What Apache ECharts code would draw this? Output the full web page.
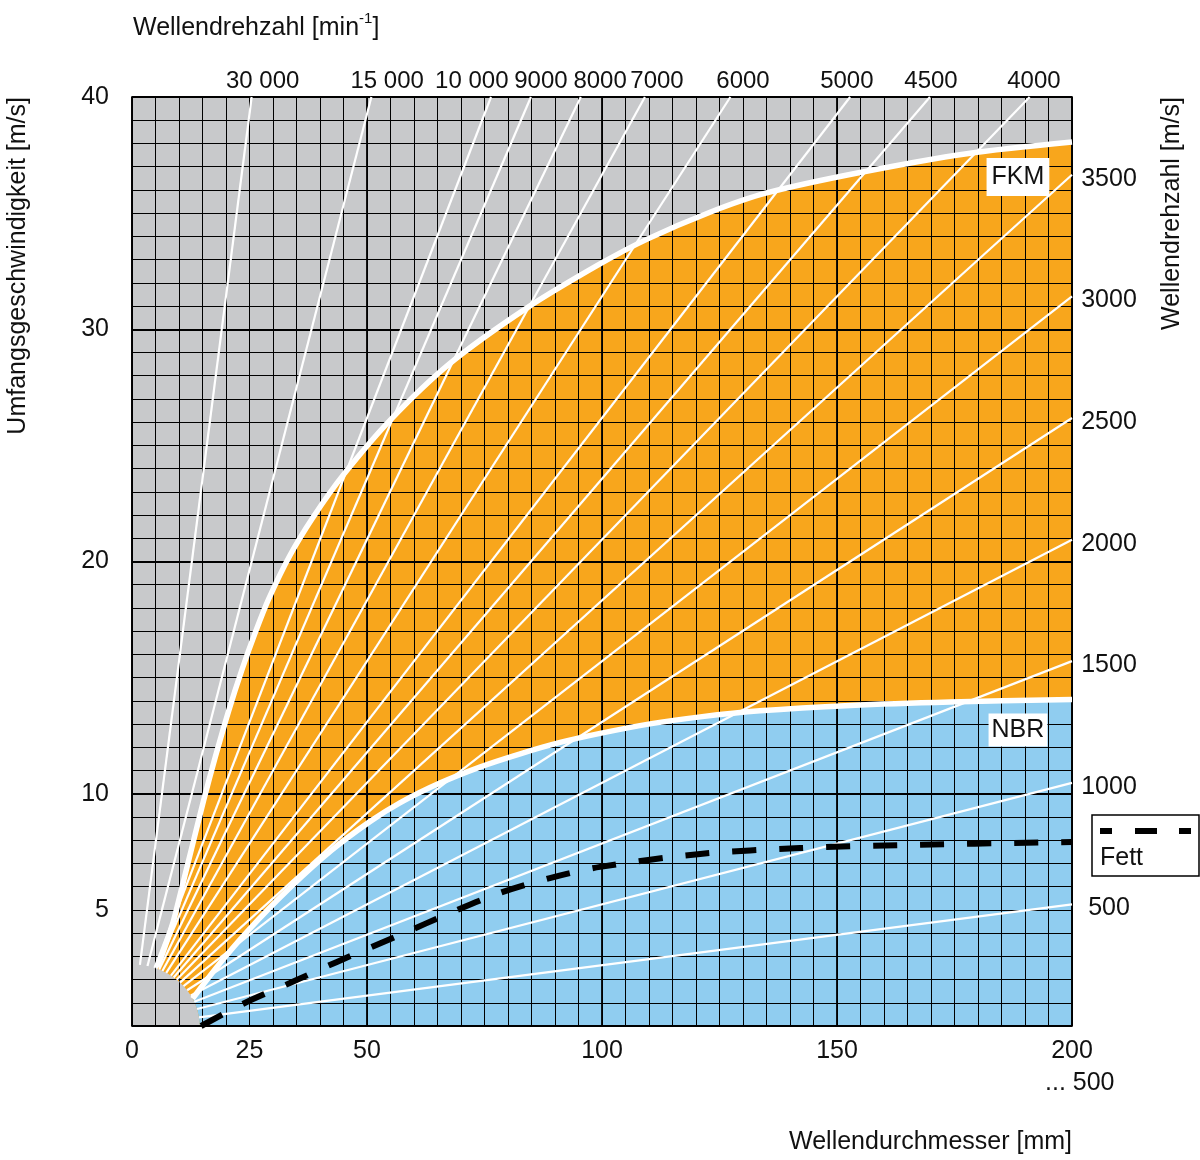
<!DOCTYPE html>
<html>
<head>
<meta charset="utf-8">
<script src="https://cdn.jsdelivr.net/npm/echarts@6/dist/echarts.min.js"></script>
<style>html,body{margin:0;padding:0;background:#fff}#c{width:1200px;height:1160px}</style>
</head>
<body>
<div id="c"></div>
<script>
const FONT = '"Liberation Sans", Arial, Helvetica, sans-serif';

// axis label ticks
const xLabelTicks = [0, 25, 50, 100, 150, 200];
const yLabelTicks = [5, 10, 20, 30, 40];

// rpm lines (start on the lower-left arc, end at the plot border), [diameter mm, speed m/s]
const rpmLineNames = ['30 000','15 000','10 000','9000','8000','7000','6000','5000','4500','4000','3500','3000','2500','2000','1500','1000','500'];
const lineStart = [[1.68,2.63],[3.29,2.58],[4.78,2.50],[5.24,2.47],[5.79,2.43],[6.46,2.37],[7.28,2.29],[8.28,2.17],[8.86,2.09],[9.50,1.99],[10.20,1.87],[10.95,1.72],[11.73,1.54],[12.51,1.31],[13.24,1.04],[13.85,0.73],[14.26,0.37]];
const lineEnd = [[25.46,40],[50.93,40],[76.39,40],[84.88,40],[95.49,40],[109.13,40],[127.32,40],[152.79,40],[169.77,40],[190.99,40],[200,36.65],[200,31.42],[200,26.18],[200,20.94],[200,15.71],[200,10.47],[200,5.24]];

// rpm labels along the top border (diameter position) and the right border (speed position)
const topLabels = ['30 000','15 000','10 000','9000','8000','7000','6000','5000','4500','4000'];
const topLabelD = [27.8, 54.3, 72.3, 87.0, 99.6, 111.7, 130.0, 152.1, 170.0, 191.9];
const rightLabels = ['3500','3000','2500','2000','1500','1000','500'];
const rightLabelV = [36.65, 31.42, 26.18, 20.94, 15.71, 10.47, 5.24];

// region boundaries
const fkmCurve = [[5.32,2.54],[6.38,3.06],[7.66,3.79],[8.87,4.56],[10.64,5.98],[12.77,7.71],[15.26,9.73],[17.72,11.58],[20.57,13.57],[23.40,15.34],[26.23,16.94],[29.09,18.39],[33.62,20.27],[38.57,21.92],[44.96,23.73],[54.89,26.08],[67.66,28.53],[83.98,30.91],[99.57,32.81],[109.51,33.87],[122.98,35.04],[135.04,35.87],[154.89,36.75],[177.6,37.56],[200,38.06]];
const nbrCurve = [[12.9,1.18],[18.5,2.65],[24.8,4.13],[33.6,5.95],[42.55,7.58],[50.6,8.80],[57.0,9.61],[65.5,10.46],[74.0,11.15],[82.6,11.72],[91.1,12.21],[99.6,12.60],[110.2,13.01],[120.9,13.31],[133.6,13.57],[152.8,13.80],[174.0,13.95],[200,14.06]];
const fettCurve = [[14.7,0],[24.0,0.99],[33.6,1.85],[43.6,2.76],[57.0,3.92],[67.7,4.87],[78.3,5.73],[88.9,6.37],[99.6,6.85],[120.9,7.41],[142.1,7.66],[163.4,7.79],[200,7.92]];
const lowerArc = [[14.4,0],[14.26,0.37],[13.85,0.73],[13.24,1.04],[12.51,1.31],[11.73,1.54],[10.95,1.72],[10.20,1.87],[9.50,1.99],[8.86,2.09],[8.28,2.17],[7.28,2.29],[6.46,2.37],[5.79,2.43],[5.32,2.47]];

// boxed region labels
const regionLabels = [{name:'FKM', value:[188.5,36.56], pad:[8,5,5,5]}, {name:'NBR', value:[188.5,12.74], pad:[5,3,3,3]}];

const GRAY = '#c8c9cb', ORANGE = '#f8a61c', BLUE = '#90cdf0';

const orangePoly = fkmCurve.concat([[200,0]], lowerArc.filter(p => p[1] < 2.5));
const bluePoly = nbrCurve.concat([[200,0]], lowerArc.filter(p => p[1] < 1.18));

function polySeries(points, color) {
  return {
    type: 'custom', coordinateSystem: 'cartesian2d', z: 1, silent: true, clip: true,
    data: [[0, 0]],
    renderItem: (params, api) => ({
      type: 'polygon',
      shape: { points: points.map(p => api.coord(p)), smooth: 0 },
      style: { fill: color }
    })
  };
}

const series = [polySeries(orangePoly, ORANGE), polySeries(bluePoly, BLUE)];

rpmLineNames.forEach((n, i) => {
  series.push({
    type: 'line', name: n, data: [lineStart[i], lineEnd[i]], z: 5, silent: true,
    showSymbol: false, symbol: 'none',
    lineStyle: { color: '#fff', width: 2.2 }
  });
});

series.push({
  type: 'line', data: fkmCurve, smooth: 0.3, z: 6, silent: true, symbol: 'none',
  lineStyle: { color: '#fff', width: 5.5 }
});
series.push({
  type: 'line', data: nbrCurve, smooth: 0.3, z: 6, silent: true, symbol: 'none',
  lineStyle: { color: '#fff', width: 5.5 }
});
series.push({
  type: 'line', data: fettCurve, smooth: 0.3, z: 7, silent: true, symbol: 'none',
  lineStyle: { color: '#000', width: 6, type: [24, 23] }
});

const hiddenItem = { color: 'rgba(0,0,0,0)', opacity: 1 };

series.push({
  type: 'scatter', z: 8, silent: true, clip: false, symbolSize: 1,
  itemStyle: hiddenItem,
  data: topLabels.map((t, i) => ({ name: t, value: [topLabelD[i], 40] })),
  label: { show: true, position: 'top', distance: 3, formatter: p => p.name,
           color: '#111', opacity: 1, fontSize: 24, fontFamily: FONT }
});
series.push({
  type: 'scatter', z: 8, silent: true, clip: false, symbolSize: 1,
  itemStyle: hiddenItem,
  data: rightLabels.map((t, i) => ({ name: t, value: [200, rightLabelV[i]] })),
  label: { show: true, position: 'inside', offset: [37, 4], align: 'center', verticalAlign: 'middle',
           formatter: p => p.name, color: '#111', opacity: 1, fontSize: 25, fontFamily: FONT }
});
series.push({
  type: 'scatter', z: 9, silent: true, clip: false, symbolSize: 1,
  itemStyle: hiddenItem,
  data: regionLabels.map(r => ({ name: r.name, value: r.value,
    label: { padding: r.pad } })),
  label: { show: true, position: 'inside', align: 'center', verticalAlign: 'middle',
           formatter: p => p.name, color: '#111', opacity: 1, fontSize: 25, fontFamily: FONT,
           backgroundColor: '#fff' }
});

const lineBlack = { color: '#000', width: 1.5 };

const option = {
  animation: false,
  backgroundColor: '#fff',
  grid: { left: 132, top: 97, right: 128, bottom: 134, show: true, backgroundColor: GRAY, borderWidth: 0 },
  xAxis: [
    { type: 'value', min: 0, max: 200, interval: 5, position: 'bottom', z: 3,
      axisLine: { show: true, onZero: false, lineStyle: lineBlack },
      axisTick: { show: false },
      axisLabel: { color: '#111', fontSize: 25, fontFamily: FONT, margin: 13,
                   showMinLabel: true, showMaxLabel: true,
                   formatter: v => xLabelTicks.indexOf(v) >= 0 ? String(v) : '' },
      splitLine: { show: true, lineStyle: { color: '#000', width: 1 } } },
    { type: 'value', min: 0, max: 200, interval: 50, position: 'top', z: 3,
      axisLine: { show: true, onZero: false, lineStyle: lineBlack },
      axisTick: { show: false }, axisLabel: { show: false },
      splitLine: { show: true, lineStyle: { color: '#000', width: 1.8 } } }
  ],
  yAxis: [
    { type: 'value', min: 0, max: 40, interval: 1, position: 'left', z: 3,
      axisLine: { show: true, onZero: false, lineStyle: lineBlack },
      axisTick: { show: false },
      axisLabel: { color: '#111', fontSize: 25, fontFamily: FONT, margin: 23,
                   showMinLabel: true, showMaxLabel: true,
                   formatter: v => yLabelTicks.indexOf(v) >= 0 ? String(v) : '' },
      splitLine: { show: true, lineStyle: { color: '#000', width: 1 } } },
    { type: 'value', min: 0, max: 40, interval: 10, position: 'right', z: 3,
      axisLine: { show: true, onZero: false, lineStyle: lineBlack },
      axisTick: { show: false }, axisLabel: { show: false },
      splitLine: { show: true, lineStyle: { color: '#000', width: 1.8 } } }
  ],
  series: series,
  graphic: [
    { type: 'text', x: 133, y: 26, z: 10,
      style: { text: '{a|Wellendrehzahl [min}{s|-1}{a|]}', verticalAlign: 'middle', textVerticalAlign: 'middle',
        rich: { a: { fontSize: 25, fontFamily: FONT, fill: '#111', color: '#111', lineHeight: 30, verticalAlign: 'bottom' },
                s: { fontSize: 15, fontFamily: FONT, fill: '#111', color: '#111', lineHeight: 15, verticalAlign: 'top' } } } },
    { type: 'text', x: 18, y: 97, rotation: Math.PI / 2, z: 10,
      style: { text: 'Umfangsgeschwindigkeit [m/s]', fontSize: 25, fontFamily: FONT, fill: '#111',
               align: 'right', textAlign: 'right', verticalAlign: 'middle', textVerticalAlign: 'middle' } },
    { type: 'text', x: 1172, y: 97, rotation: Math.PI / 2, z: 10,
      style: { text: 'Wellendrehzahl [m/s]', fontSize: 25, fontFamily: FONT, fill: '#111',
               align: 'right', textAlign: 'right', verticalAlign: 'middle', textVerticalAlign: 'middle' } },
    { type: 'text', x: 1072, y: 1142, z: 10,
      style: { text: 'Wellendurchmesser [mm]', fontSize: 25, fontFamily: FONT, fill: '#111',
               align: 'right', textAlign: 'right', verticalAlign: 'middle', textVerticalAlign: 'middle' } },
    { type: 'text', x: 1045, y: 1083, z: 10,
      style: { text: '... 500', fontSize: 25, fontFamily: FONT, fill: '#111',
               align: 'left', textAlign: 'left', verticalAlign: 'middle', textVerticalAlign: 'middle' } },
    { type: 'rect', z: 10, shape: { x: 1092, y: 815, width: 107, height: 61 },
      style: { fill: '#fff', stroke: '#000', lineWidth: 1.5 } },
    { type: 'line', z: 11, shape: { x1: 1100, y1: 831, x2: 1112, y2: 831 }, style: { stroke: '#000', lineWidth: 6 } },
    { type: 'line', z: 11, shape: { x1: 1135, y1: 831, x2: 1157, y2: 831 }, style: { stroke: '#000', lineWidth: 6 } },
    { type: 'line', z: 11, shape: { x1: 1179, y1: 831, x2: 1191, y2: 831 }, style: { stroke: '#000', lineWidth: 6 } },
    { type: 'text', x: 1100, y: 858, z: 11,
      style: { text: 'Fett', fontSize: 25, fontFamily: FONT, fill: '#111',
               align: 'left', textAlign: 'left', verticalAlign: 'middle', textVerticalAlign: 'middle' } }
  ]
};

const chart = echarts.init(document.getElementById('c'), null, { renderer: 'canvas' });
chart.setOption(option);
</script>
</body>
</html>
